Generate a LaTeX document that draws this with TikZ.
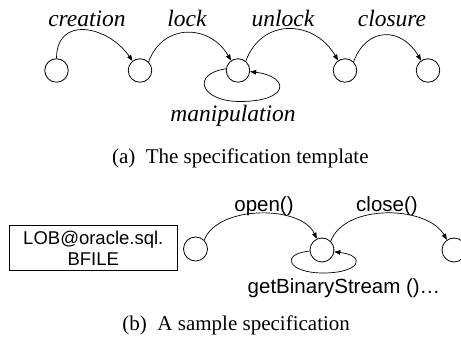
\documentclass[tikz,border=0pt]{standalone}
\usepackage{fontspec}
\setmainfont{Liberation Serif}
\setsansfont{Liberation Sans}
\usetikzlibrary{arrows.meta}
\begin{document}
\begin{tikzpicture}[x=1pt,y=1pt,
  state/.style={circle,draw,line width=0.8pt,minimum size=23.5pt,inner sep=0pt},
  arr/.style={line width=0.7pt,-{Triangle[length=6pt,width=4.5pt]}},
  lbl/.style={font=\fontsize{23.5}{26}\selectfont\itshape,anchor=base,inner sep=0pt},
  slbl/.style={font=\fontsize{20.5}{23}\selectfont\sffamily,anchor=base,inner sep=0pt},
  captxt/.style={font=\fontsize{21}{24}\selectfont,anchor=base,inner sep=0pt}]
\useasboundingbox (0,0) rectangle (461,339);
% (a) template
\node[state] (c1) at (56.5,268.5) {};
\node[state] (c2) at (140,268.5) {};
\node[state] (c3) at (238,268.5) {};
\node[state] (c4) at (345,268.5) {};
\node[state] (c5) at (428,268.5) {};
\node[lbl] (lcre) at (87,312.5) {creation};
\node[lbl] (llock) at (187,312.5) {lock};
\node[lbl] (lunl) at (283,312.5) {unlock};
\node[lbl] (lclo) at (392,312.5) {closure};
\node[lbl] (lman) at (233,217.5) {manipulation};
\draw[arr] (c1.90) to[out=90,in=125,looseness=1.45] (c2.128);
\draw[arr] (c2.45) to[out=70,in=120,looseness=1.3] (c3.125);
\draw[arr] (c3.50) to[out=70,in=120,looseness=1.3] (c4.125);
\draw[arr] (c4.45) to[out=70,in=120,looseness=1.45] (c5.125);
\draw[arr] (c3.172) .. controls +(-35,-5) and +(-40,0) .. (240,237.5)
  .. controls +(50,0) and +(40,-5) .. (c3.-5);
\node[captxt] (capa) at (240.3,175) {(a)\hspace{0.5em}The specification template};
% (b) sample
\node[draw,line width=0.8pt,minimum width=168pt,minimum height=45pt,inner sep=0pt,
  align=center,font=\fontsize{18.5}{21}\selectfont\sffamily] (lob) at (93.3,91)
  {LOB@oracle.sql.\\BFILE};
\node[state,minimum size=24pt] (b1) at (195.5,90) {};
\node[state,minimum size=24pt] (b2) at (322,89) {};
\node[state,minimum size=24pt] (b3) at (454,89) {};
\node[slbl] (lopen) at (264,127) {open()};
\node[slbl] (lclose) at (387,127) {close()};
\node[slbl] (lget) at (344,45) {getBinaryStream ()…};
\draw[arr] (b1.45) to[out=70,in=115,looseness=0.85] (b2.115);
\draw[arr] (b2.45) to[out=70,in=120,looseness=0.88] (b3.125);
\draw[arr] (b2.185) .. controls +(-30,-3) and +(-35,0) .. (323,66)
  .. controls +(38,0) and +(32,-4) .. (b2.-8);
\node[captxt] (capb) at (236.2,8) {(b)\hspace{0.5em}A sample specification};
\end{tikzpicture}
\end{document}
